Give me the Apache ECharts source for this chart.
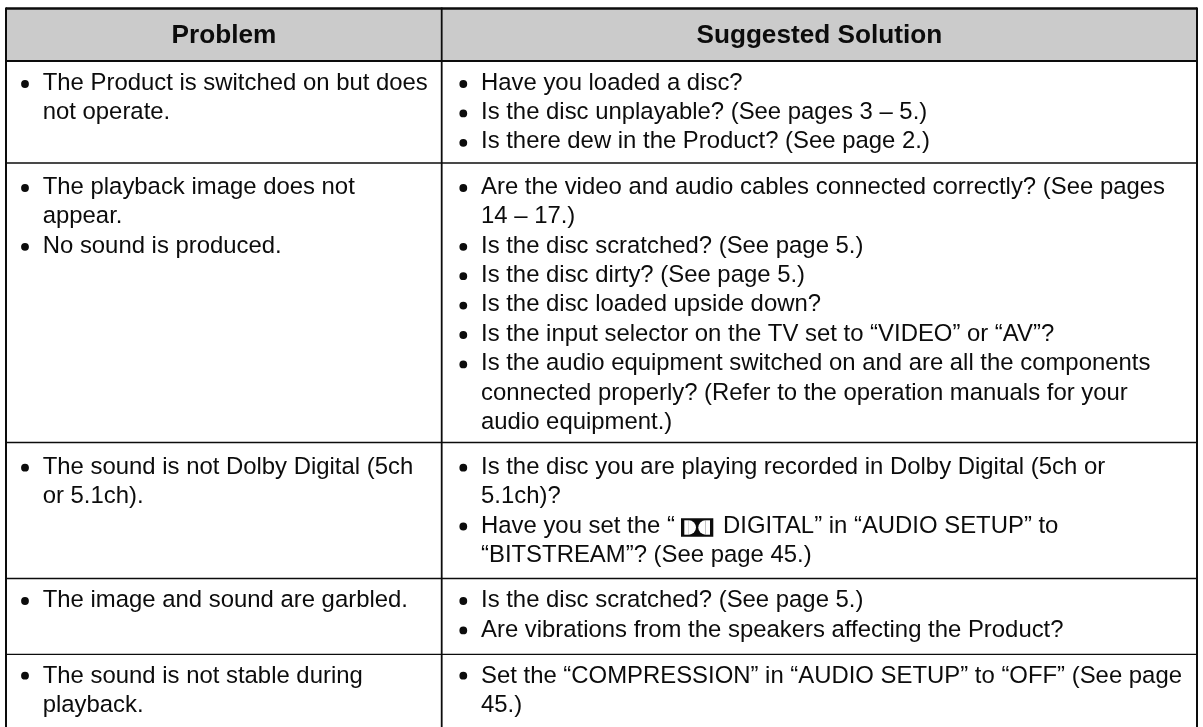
<!DOCTYPE html>
<html>
<head>
<meta charset="utf-8">
<style>html,body{margin:0;padding:0;background:#fff}#main{width:1203px;height:727px}</style>
<script src="https://cdn.jsdelivr.net/npm/echarts@6/dist/echarts.min.js"></script>
</head>
<body>
<div id="main"></div>
<script>
const headers = ['Problem', 'Suggested Solution'];

// one entry per bullet, one string per printed line
const problems = [
  [['The Product is switched on but does', 'not operate.']],
  [['The playback image does not', 'appear.'], ['No sound is produced.']],
  [['The sound is not Dolby Digital (5ch', 'or 5.1ch).']],
  [['The image and sound are garbled.']],
  [['The sound is not stable during', 'playback.']]
];
const solutions = [
  [['Have you loaded a disc?'], ['Is the disc unplayable? (See pages 3 – 5.)'], ['Is there dew in the Product? (See page 2.)']],
  [['Are the video and audio cables connected correctly? (See pages', '14 – 17.)'],
   ['Is the disc scratched? (See page 5.)'],
   ['Is the disc dirty? (See page 5.)'],
   ['Is the disc loaded upside down?'],
   ['Is the input selector on the TV set to “VIDEO” or “AV”?'],
   ['Is the audio equipment switched on and are all the components', 'connected properly? (Refer to the operation manuals for your', 'audio equipment.)']],
  [['Is the disc you are playing recorded in Dolby Digital (5ch or', '5.1ch)?'],
   ['Have you set the “{dd}DIGITAL” in “AUDIO SETUP” to', '“BITSTREAM”? (See page 45.)']],
  [['Is the disc scratched? (See page 5.)'], ['Are vibrations from the speakers affecting the Product?']],
  [['Set the “COMPRESSION” in “AUDIO SETUP” to “OFF” (See page', '45.)']]
];

const FONT = '"Liberation Sans", Arial, sans-serif';
const FONT_SIZE = 23.9;
const PITCH = 29.4;
const INK = '#0c0c0c';
const LEFT = 6, RIGHT = 1197, TOP = 8.5, DIVIDER = 441.7, BOTTOM = 727;
const HEAD_BOTTOM = 61;
const rowLines = [163, 442.5, 578.5, 654.3];
// first bullet centre and first text line centre in each row
const firstBullet = [84, 188, 467.7, 601, 675.7];
const firstText = [83, 187.3, 467.3, 600.6, 676.3];

const elements = [];
elements.push({ type: 'rect', shape: { x: LEFT, y: TOP, width: RIGHT - LEFT, height: HEAD_BOTTOM - TOP }, style: { fill: '#cbcbcb' } });

function hline(y, w) {
  elements.push({ type: 'line', shape: { x1: LEFT, y1: y, x2: RIGHT, y2: y }, style: { stroke: INK, lineWidth: w } });
}
function vline(x, w) {
  elements.push({ type: 'line', shape: { x1: x, y1: TOP - 1, x2: x, y2: BOTTOM }, style: { stroke: INK, lineWidth: w } });
}
hline(TOP, 2.4);
hline(HEAD_BOTTOM, 2);
rowLines.forEach(y => hline(y, 1.3));
vline(LEFT, 2);
vline(DIVIDER, 1.8);
vline(RIGHT, 2);

function txt(x, y, s, extra) {
  elements.push({
    type: 'text',
    style: Object.assign({ x, y, text: s, fill: INK, font: FONT_SIZE + 'px ' + FONT, verticalAlign: 'middle' }, extra)
  });
}
// double-D mark: black box with two white half discs back to back
function dolby(x, y) {
  const white = { fill: '#fff' };
  elements.push({ type: 'rect', shape: { x, y, width: 32.3, height: 18.4 }, style: { fill: INK } });
  elements.push({ type: 'rect', shape: { x: x + 3.3, y: y + 2, width: 4.5, height: 14.4 }, style: white });
  elements.push({ type: 'sector', shape: { cx: x + 7.8, cy: y + 9.2, r: 7.2, startAngle: -Math.PI / 2, endAngle: Math.PI / 2 }, style: white });
  elements.push({ type: 'rect', shape: { x: x + 24.5, y: y + 2, width: 4.5, height: 14.4 }, style: white });
  elements.push({ type: 'sector', shape: { cx: x + 24.5, cy: y + 9.2, r: 7.2, startAngle: Math.PI / 2, endAngle: Math.PI * 3 / 2 }, style: white });
}
function cell(bullets, bulletX, textX, i) {
  let line = 0;
  bullets.forEach(lines => {
    elements.push({ type: 'circle', shape: { cx: bulletX, cy: firstBullet[i] + line * PITCH, r: 3.9 }, style: { fill: INK } });
    lines.forEach(s => {
      const ly = firstText[i] + line * PITCH;
      if (s.includes('{dd}')) {
        const parts = s.split('{dd}');
        txt(textX, ly, parts[0]);
        dolby(681, 518.3);
        txt(723, ly, parts[1]);
      } else {
        txt(textX, ly, s);
      }
      line++;
    });
  });
}

const headFont = 'bold 26.2px ' + FONT;
txt(224, 36, headers[0], { font: headFont, align: 'center' });
txt((DIVIDER + RIGHT) / 2, 36, headers[1], { font: headFont, align: 'center' });
problems.forEach((b, i) => cell(b, 25, 42.7, i));
solutions.forEach((b, i) => cell(b, 463.3, 481, i));

const chart = echarts.init(document.getElementById('main'));
chart.setOption({ animation: false, graphic: { elements } });
</script>
</body>
</html>
